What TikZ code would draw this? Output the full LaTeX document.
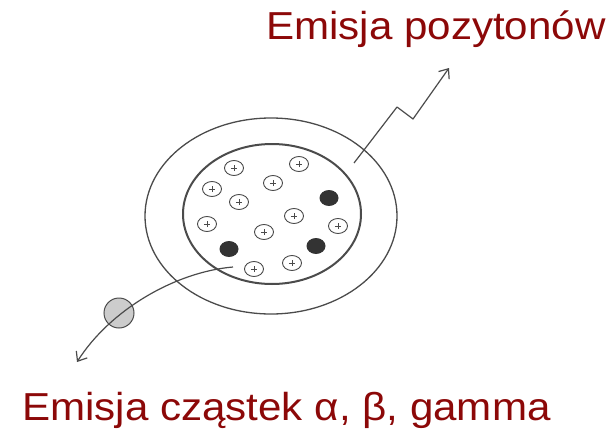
\documentclass[tikz,border=0pt]{standalone}
\usepackage{fontspec}
\setmainfont{Liberation Sans}
\newfontfamily\capfont[FakeStretch=1.08]{Liberation Sans}
\usetikzlibrary{positioning,calc,arrows.meta,shapes.geometric}

\definecolor{titlered}{RGB}{140,8,8}
\definecolor{inkgray}{RGB}{75,75,75}

\tikzset{
	proton/.style={ellipse,draw=inkgray,line width=.9pt,minimum width=19pt,minimum height=15pt,inner sep=0pt,
		path picture={\draw[inkgray,line width=.7pt]
			(path picture bounding box.center) ++(-3.2pt,0) -- ++(6.4pt,0)
			(path picture bounding box.center) ++(0,-3.2pt) -- ++(0,6.4pt);}},
	neutron/.style={ellipse,fill=black!80,minimum width=19pt,minimum height=16pt,inner sep=0pt},
	alphap/.style={circle,draw=inkgray,fill=black!20,line width=1pt,minimum size=30pt,inner sep=0pt},
	ray/.style={draw=inkgray,line width=1.2pt,-{Straight Barb[length=8pt,width=13pt,line width=1.2pt]}},
	caption/.style={text=titlered,font=\capfont\fontsize{39}{46}\selectfont,inner sep=0pt,anchor=base west}
}

\begin{document}
\begin{tikzpicture}[x=1pt,y=-1pt]
	\useasboundingbox (0,0) rectangle (610,431);

	% shells of the atom
	\draw[inkgray,line width=1.3pt] (271,216) ellipse [x radius=126,y radius=98];
	\draw[inkgray,line width=2pt] (272,214) ellipse [x radius=89,y radius=70];

	% nucleus: protons and neutrons
	\foreach \x/\y [count=\i] in {234/168,299/164,212/189,273/183,239/202,207/224,
			294/216,264/232,338/226,254/269,292/263}
		\node[proton] (p\i) at (\x,\y) {};
	\node[neutron] (n1) at (329,198) {};
	\node[neutron] (n2) at (229,249) {};
	\node[neutron] (n3) at (316,246) {};

	% emitted particle
	\node[alphap] (al) at (119,313) {};
	\coordinate (a0) at (233,267);
	\coordinate (a1) at (77,362);
	\draw[ray] (a0) .. controls (175,272) and (110,310) .. (a1);

	% positron track
	\coordinate (e0) at (354,163);
	\coordinate (e1) at (397,107);
	\coordinate (e2) at (413,119);
	\coordinate (e3) at (449,68);
	\draw[ray,line join=round] (e0) -- (e1) -- (e2) -- (e3);

	\node[caption] (pos) at (266,39) {Emisja pozytonów};
	\node[caption] (emi) at (22,420) {Emisja cząstek α, β, gamma};
\end{tikzpicture}
\end{document}
